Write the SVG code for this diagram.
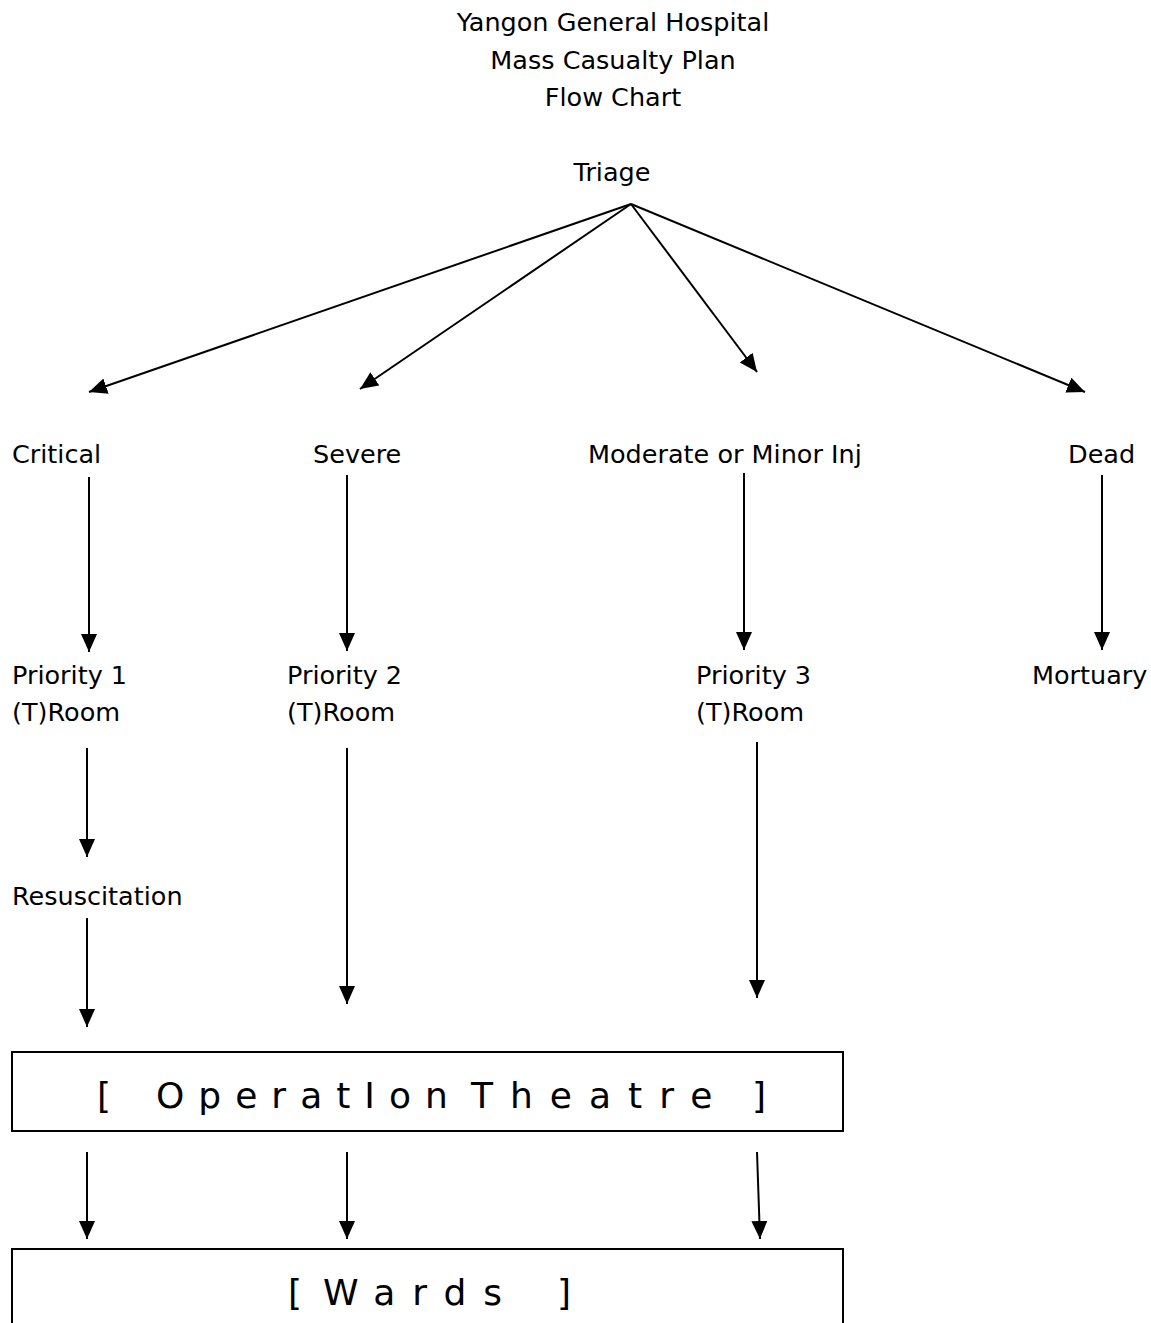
<svg xmlns="http://www.w3.org/2000/svg" width="1151" height="1323" viewBox="0 0 1151 1323">
<style>
  .t { font-family: "DejaVu Sans", "Liberation Sans", sans-serif; font-size: 25.5px; fill: #000; }
  .c { text-anchor: middle; }
  .big { font-family: "DejaVu Sans", "Liberation Sans", sans-serif; font-size: 36px; fill: #000; letter-spacing: 14px; }
  .wide { letter-spacing: 17px; }
  .edge { stroke: #000; stroke-width: 2; fill: none; marker-end: url(#ah); }
  .box { fill: #fff; stroke: #000; stroke-width: 2; }
</style>
<defs>
  <marker id="ah" markerUnits="userSpaceOnUse" markerWidth="20" markerHeight="18" refX="18" refY="8" orient="auto">
    <path d="M0,0 L18,8 L0,16 z" fill="#000"/>
  </marker>
</defs>
<rect width="1151" height="1323" fill="#fff"/>
<g id="title">
  <text class="t c" x="613" y="31">Yangon General Hospital</text>
  <text class="t c" x="613" y="69">Mass Casualty Plan</text>
  <text class="t c" x="613" y="106">Flow Chart</text>
</g>
<g id="triage"><text class="t c" x="612" y="181">Triage</text></g>
<g id="critical"><text class="t" x="12" y="463">Critical</text></g>
<g id="severe"><text class="t" x="313" y="463">Severe</text></g>
<g id="moderate"><text class="t" x="588" y="463">Moderate or Minor Inj</text></g>
<g id="dead"><text class="t" x="1068" y="463">Dead</text></g>
<g id="priority1"><text class="t" x="12" y="684">Priority 1</text><text class="t" x="12" y="721">(T)Room</text></g>
<g id="priority2"><text class="t" x="287" y="684">Priority 2</text><text class="t" x="287" y="721">(T)Room</text></g>
<g id="priority3"><text class="t" x="696" y="684">Priority 3</text><text class="t" x="696" y="721">(T)Room</text></g>
<g id="mortuary"><text class="t" x="1032" y="684">Mortuary</text></g>
<g id="resuscitation"><text class="t" x="12" y="905">Resuscitation</text></g>
<g id="operation-theatre">
  <rect class="box" x="12" y="1052" width="831" height="79"/>
  <text class="big" y="1108"><tspan x="97">[</tspan> <tspan x="156">OperatIon</tspan> <tspan class="wide" x="471">Theatre</tspan> <tspan x="752">]</tspan></text>
</g>
<g id="wards">
  <rect class="box" x="12" y="1249" width="831" height="100"/>
  <text class="big" y="1305"><tspan x="288">[</tspan> <tspan class="wide" x="323">Wards</tspan> <tspan x="557">]</tspan></text>
</g>
<g id="connectors">
  <line class="edge" x1="631" y1="204" x2="89" y2="392"/>
  <line class="edge" x1="631" y1="204" x2="360" y2="389"/>
  <line class="edge" x1="631" y1="204" x2="757" y2="372"/>
  <line class="edge" x1="631" y1="204" x2="1085" y2="392"/>
  <line class="edge" x1="89" y1="477" x2="89" y2="652"/>
  <line class="edge" x1="347" y1="475" x2="347" y2="651"/>
  <line class="edge" x1="744" y1="473" x2="744" y2="650"/>
  <line class="edge" x1="1102" y1="475" x2="1102" y2="650"/>
  <line class="edge" x1="87" y1="748" x2="87" y2="857"/>
  <line class="edge" x1="87" y1="918" x2="87" y2="1027"/>
  <line class="edge" x1="347" y1="748" x2="347" y2="1004"/>
  <line class="edge" x1="757" y1="742" x2="757" y2="998"/>
  <line class="edge" x1="87" y1="1152" x2="87" y2="1239"/>
  <line class="edge" x1="347" y1="1152" x2="347" y2="1239"/>
  <line class="edge" x1="757" y1="1152" x2="760" y2="1239"/>
</g>
</svg>
